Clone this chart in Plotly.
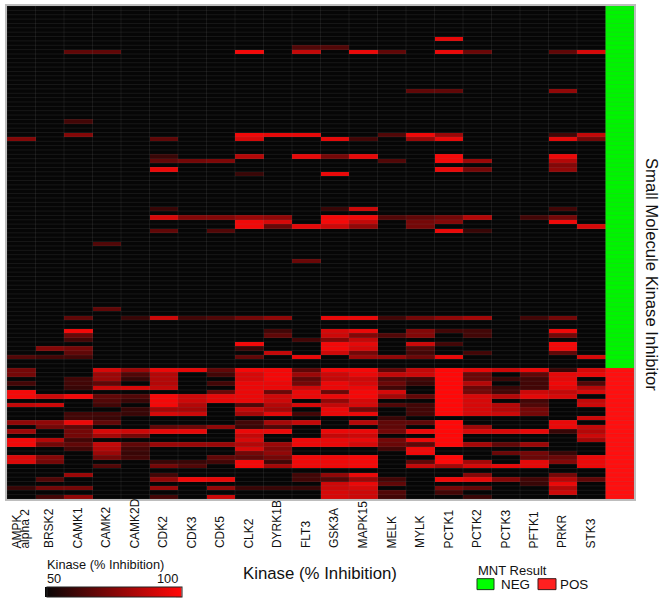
import plotly.graph_objects as go

W, H = 661, 602
L, R, T, B = 7, 27, 4, 103
FONT = "Liberation Sans"

KINASES = ["AMPK<br>alpha 2", "BRSK2", "CAMK1", "CAMK2", "CAMK2D", "CDK2", "CDK3", "CDK5", "CLK2", "DYRK1B", "FLT3",
           "GSK3A", "MAPK15", "MELK", "MYLK", "PCTK1", "PCTK2", "PCTK3", "PFTK1", "PRKR", "STK3"]
KEYS = [k.split("<br>")[0] for k in KINASES]
N_NEG = 83
N_POS = 30

# % inhibition of the compounds with a positive MNT result (bottom block), top row first
AMPK = [72,72,0,62,0,98,98,0,88,0, 0,0,78,0,80,0,98,98,0,0, 93,93,0,0,0,0,0,60,0,0]
BRSK2 = [0,0,0,0,0,0,90,0,90,0, 0,0,78,72,0,0,85,72,0,0, 75,72,0,0,0,65,0,72,0,62]
CAMK1 = [0,0,62,62,60,0,97,0,0,0, 62,62,96,68,72,72,62,68,62,0, 0,0,0,0,80,0,0,72,0,78]
CAMK2 = [92,80,80,68,90,0,68,65,62,0, 62,60,68,0,92,82,0,88,85,80, 72,0,65,0,0,0,0,0,0,0]
CAMK2D = [80,65,60,0,92,0,65,60,0,60, 60,0,0,0,90,72,0,68,62,60, 62,0,0,0,0,0,0,0,0,0]
CDK2 = [96,85,85,85,88,0,98,98,98,82, 92,0,0,68,95,0,0,80,0,0, 0,60,72,0,62,78,0,80,0,62]
CDK3 = [95,0,0,0,0,0,90,90,85,82, 90,0,0,70,95,0,0,80,0,0, 0,60,65,0,0,97,0,0,0,0]
CDK5 = [68,62,0,62,0,70,95,95,0,0, 0,0,0,78,0,0,0,80,0,0, 68,62,0,0,0,95,0,78,0,90]
CLK2 = [98,92,92,96,96,96,96,96,65,88, 82,0,62,60,96,88,92,85,92,72, 68,98,98,0,0,0,0,60,0,0]
DYRK1B = [98,98,98,96,96,70,90,90,85,82, 95,0,82,65,96,0,0,80,75,78, 72,62,82,0,0,0,0,60,0,0]
FLT3 = [68,80,68,72,90,96,96,0,92,0, 62,0,88,0,0,0,97,97,0,0, 97,97,97,0,62,62,0,60,0,0]
GSK3A = [98,90,88,96,96,70,96,78,88,96, 96,0,0,0,96,88,96,96,0,0, 97,97,97,0,78,65,90,90,92,92]
MAPK15 = [98,96,90,92,96,98,98,92,92,72, 96,0,85,0,96,90,96,92,0,0, 98,98,98,0,96,80,96,92,90,90]
MELK = [68,88,65,70,62,92,82,0,65,0, 0,60,68,68,72,0,72,70,62,0, 0,0,0,0,0,62,68,0,65,62]
MYLK = [88,90,62,60,0,0,68,0,62,62, 62,0,68,0,96,0,96,68,97,97, 0,68,88,0,0,0,0,0,0,0]
PCTK1 = [100,100,100,100,100,100,100,100,100,100, 100,0,100,100,100,100,100,100,0,0, 100,100,82,0,0,97,0,72,62,0]
PCTK2 = [95,70,70,85,70,72,92,92,92,92, 92,0,0,80,92,0,0,82,0,0, 0,82,92,0,75,95,0,68,0,60]
PCTK3 = [90,0,60,0,60,62,85,0,85,85, 90,0,0,0,92,0,0,68,0,70, 0,0,95,0,0,75,0,0,0,0]
PFTK1 = [96,68,62,62,62,90,95,62,65,72, 72,0,0,0,95,0,0,80,0,72, 70,95,95,0,0,62,60,0,0,0]
PRKR = [60,95,95,97,95,88,92,0,0,0, 0,0,96,96,60,0,0,0,0,60, 70,75,0,0,72,85,96,85,90,0]
STK3 = [92,96,0,65,85,92,0,88,90,0, 0,90,0,88,85,90,82,0,0,0, 96,96,96,0,0,68,0,0,0,0]
POS_COLUMNS = [AMPK, BRSK2, CAMK1, CAMK2, CAMK2D, CDK2, CDK3, CDK5, CLK2, DYRK1B, FLT3,
               GSK3A, MAPK15, MELK, MYLK, PCTK1, PCTK2, PCTK3, PFTK1, PRKR, STK3]

# the few inhibition values above 50 % among the MNT-negative compounds, by row
NEG_HITS = {
    7: {"PCTK1": 95},
    9: {"FLT3": 65, "GSK3A": 65},
    10: {"CAMK1": 68, "CAMK2": 68, "CLK2": 98, "FLT3": 88, "MAPK15": 96, "MELK": 68, "PCTK1": 96, "PCTK2": 70, "PRKR": 68, "STK3": 92},
    19: {"MYLK": 68, "PCTK1": 68, "PRKR": 78},
    26: {"CAMK1": 62},
    29: {"CAMK1": 75, "CLK2": 97, "DYRK1B": 95, "FLT3": 95, "MELK": 65, "MYLK": 97, "PCTK1": 80, "PRKR": 62, "STK3": 88},
    30: {"AMPK": 75, "CDK2": 68, "CLK2": 92, "GSK3A": 95, "MAPK15": 62, "MYLK": 80, "PCTK1": 96, "PRKR": 95, "STK3": 72},
    34: {"CDK2": 60, "CLK2": 85, "FLT3": 95, "GSK3A": 72, "MAPK15": 95, "PCTK1": 98, "PRKR": 96},
    35: {"CDK2": 68, "CDK3": 72, "CDK5": 74, "MELK": 65, "PCTK1": 98, "PCTK2": 80, "PRKR": 85},
    36: {"PRKR": 75},
    37: {"CDK2": 96, "PCTK1": 96, "PCTK2": 72, "PRKR": 78},
    38: {"CLK2": 60, "GSK3A": 96},
    46: {"CDK2": 60, "GSK3A": 60, "MAPK15": 90, "PRKR": 62},
    48: {"CDK2": 92, "CDK3": 75, "CDK5": 75, "CLK2": 80, "DYRK1B": 78, "GSK3A": 98, "MAPK15": 97, "MELK": 65, "MYLK": 68, "PCTK1": 72, "PCTK2": 85, "PFTK1": 62, "PRKR": 72},
    49: {"CLK2": 97, "DYRK1B": 92, "GSK3A": 98, "MAPK15": 88, "MYLK": 72, "PCTK1": 75, "PRKR": 97},
    50: {"CLK2": 97, "DYRK1B": 70, "FLT3": 95, "GSK3A": 90, "MAPK15": 78, "MYLK": 72, "STK3": 92},
    51: {"CDK2": 68, "CDK5": 65, "PCTK1": 96, "PCTK2": 60},
    54: {"CAMK2": 65},
    58: {"FLT3": 70},
    69: {"CAMK2": 68},
    71: {"CAMK1": 68, "CAMK2D": 60, "CDK2": 90, "CDK3": 62, "CDK5": 65, "CLK2": 72, "DYRK1B": 78, "GSK3A": 96, "MAPK15": 96, "MELK": 62, "MYLK": 72, "PCTK1": 78, "PCTK2": 82, "PFTK1": 62, "PRKR": 72},
    74: {"CAMK1": 98, "DYRK1B": 62, "GSK3A": 92, "MAPK15": 96, "MYLK": 75, "PCTK1": 62, "PCTK2": 62, "PRKR": 97},
    75: {"CAMK1": 70, "DYRK1B": 68, "GSK3A": 90, "MAPK15": 75, "MELK": 65, "MYLK": 75, "PCTK2": 62, "PRKR": 72},
    76: {"CAMK1": 62, "FLT3": 62, "GSK3A": 75, "MAPK15": 88},
    77: {"CLK2": 98, "GSK3A": 98, "MAPK15": 95, "MYLK": 90, "PCTK1": 62, "PRKR": 98},
    78: {"BRSK2": 75, "CAMK1": 72, "CLK2": 60, "GSK3A": 98, "MAPK15": 92, "MYLK": 65, "PRKR": 97},
    79: {"CAMK1": 68, "DYRK1B": 88, "GSK3A": 90, "MAPK15": 72, "MYLK": 62, "PCTK2": 62, "PRKR": 68},
    80: {"AMPK": 65, "BRSK2": 62, "CAMK1": 62, "CLK2": 68, "FLT3": 96, "MAPK15": 80, "MELK": 78, "MYLK": 70, "PCTK1": 96, "STK3": 92},
}

N_ROWS = N_NEG + N_POS
rows = list(range(N_ROWS))
columns = list(range(len(KINASES)))
z = []
for r in rows:
    if r < N_NEG:
        hits = NEG_HITS.get(r, {})
        z.append([hits.get(k, 0) for k in KEYS])
    else:
        z.append([c[r - N_NEG] for c in POS_COLUMNS])

result = [[0] for _ in range(N_NEG)] + [[1] for _ in range(N_POS)]

fig = go.Figure()
fig.add_trace(go.Heatmap(
    z=z, x=columns, y=rows, zmin=50, zmax=100,
    colorscale=[[0, "#060606"], [1, "#ff0808"]],
    hoverinfo="skip",
    colorbar=dict(orientation="h", thickness=10, lenmode="pixels", len=135,
                  x=47 / W, xref="container", xanchor="left",
                  y=1 - 598 / H, yref="container", yanchor="bottom",
                  outlinecolor="#222", outlinewidth=1, showticklabels=False, ticks="", xpad=0, ypad=0),
))
fig.add_trace(go.Heatmap(
    z=result, x=[len(KINASES)], y=rows, zmin=0, zmax=1, showscale=False,
    colorscale=[[0, "#00f500"], [1, "#ff0f0f"]], hoverinfo="skip",
))

# faint cell grid drawn over the heatmap: lifts the black, dims the red
gx, gy = [], []
for i in range(N_ROWS + 1):
    gx += [-0.5, len(KINASES) + 0.5, None]
    gy += [i - 0.5, i - 0.5, None]
for j in range(len(KINASES) + 2):
    gx += [j - 0.5, j - 0.5, None]
    gy += [-0.5, N_ROWS - 0.5, None]
fig.add_trace(go.Scatter(x=gx, y=gy, mode="lines", showlegend=False, hoverinfo="skip",
                         line=dict(color="rgba(110,110,110,0.17)", width=1)))

pw, ph = W - L - R, H - T - B


def px(x):
    return (x - L) / pw


def py(y):
    return 1 - (y - T) / ph


ann = []


def text(s, x, y, size, xanchor="left", yanchor="middle", angle=0, xref="paper", **kw):
    ann.append(dict(text=s, x=x, y=py(y), xref=xref, yref="paper", xanchor=xanchor, yanchor=yanchor,
                    showarrow=False, textangle=angle, font=dict(family=FONT, size=size, color="#111"),
                    borderpad=0, borderwidth=0, **kw))


for i, k in enumerate(KINASES):
    parts = k.split("<br>")
    if len(parts) == 2:
        text(parts[0], i, 548.5, 12, "center", "bottom", -90, xref="x", xshift=-4)
        text(parts[1], i, 548.5, 12, "center", "bottom", -90, xref="x", xshift=4)
    else:
        text(k, i, 548.5, 12, "center", "bottom", -90, xref="x")

text("Kinase (% Inhibition)", px(320), 574, 16.8, "center")
text("Small Molecule Kinase Inhibitor", px(651), 273, 16.7, "center", "middle", 90)
text("Kinase (% Inhibition)", px(47), 564.5, 12.8)
text("50", px(47), 578.5, 12.8)
text("100", px(178), 578.5, 12.8, "right")
text("MNT Result", px(478), 570.5, 13)
text("NEG", px(501), 584.5, 13.4)
text("POS", px(560), 584.5, 13.4)

shapes = [
    dict(type="rect", xref="paper", yref="paper", x0=px(477), x1=px(494), y0=py(590), y1=py(579),
         fillcolor="#00ff00", line=dict(color="#1a3a1a", width=1)),
    dict(type="rect", xref="paper", yref="paper", x0=px(538), x1=px(556), y0=py(590), y1=py(579),
         fillcolor="#ff2020", line=dict(color="#3a1a1a", width=1)),
    # backing for the top end of the colour bar
    dict(type="rect", xref="paper", yref="paper", x0=px(176), x1=px(181.5), y0=py(597.5), y1=py(587.5),
         fillcolor="#ff0808", line=dict(width=0), layer="below"),
]

fig.update_layout(
    width=W, height=H, margin=dict(l=L, r=R, t=T, b=B, pad=0),
    paper_bgcolor="white", plot_bgcolor="black",
    font=dict(family=FONT, color="#111"), showlegend=False,
    annotations=ann, shapes=shapes,
    xaxis=dict(range=[-0.5, len(KINASES) + 0.5], showticklabels=False, ticks="", showgrid=False, zeroline=False,
               showline=True, mirror=True, linecolor="#bdbdbd", linewidth=1.5, fixedrange=True),
    yaxis=dict(range=[N_ROWS - 0.5, -0.5], showticklabels=False, ticks="", showgrid=False, zeroline=False,
               showline=True, mirror=True, linecolor="#bdbdbd", linewidth=1.5, fixedrange=True),
)

fig.write_html("out.html", config=dict(displayModeBar=False),
               post_script="document.body.style.margin='0';")
